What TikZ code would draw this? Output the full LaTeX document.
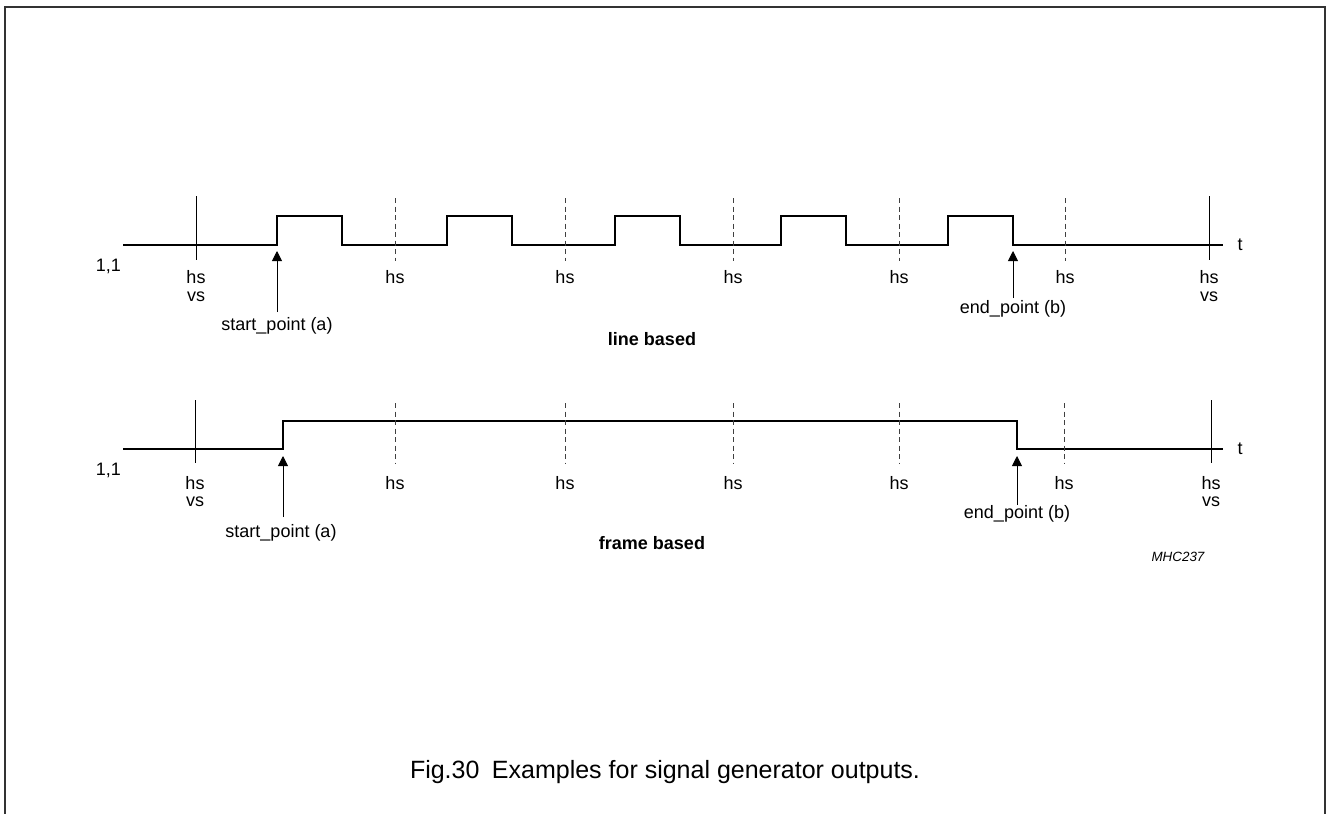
\documentclass[tikz,border=0pt]{standalone}
\usepackage{fontspec}
\setmainfont{Liberation Sans}
\usetikzlibrary{arrows.meta}
\begin{document}
\begin{tikzpicture}[x=1pt,y=-1pt,
  sig/.style={line width=2.6pt, line join=miter},
  tick/.style={line width=0.8pt},
  dline/.style={line width=0.8pt, dash pattern=on 5pt off 3.5pt, draw=black!75},
  lab/.style={font=\fontsize{18}{20}\selectfont, inner sep=0pt},
  blab/.style={font=\fontsize{18}{20}\selectfont\bfseries, inner sep=0pt},
  ptr/.style={-{Triangle[length=10pt,width=10pt]}, line width=0.9pt}]
\useasboundingbox (0,0) rectangle (1326,814);
\draw[line width=2pt, black!80] (4.5,814) -- (4.5,7) -- (1324.5,7) -- (1324.5,814);

% ---------- line based ----------
\draw[sig] (123,245) -- (277,245) -- (277,216) -- (342,216) -- (342,245)
  -- (447,245) -- (447,216) -- (512,216) -- (512,245)
  -- (615,245) -- (615,216) -- (680,216) -- (680,245)
  -- (781,245) -- (781,216) -- (846,216) -- (846,245)
  -- (948,245) -- (948,216) -- (1013,216) -- (1013,245) -- (1223,245);
\draw[tick] (196,196) -- (196,260);
\draw[tick] (1209,196) -- (1209,260);
\foreach \x in {395,565,733,899,1065} {
  \draw[dline] (\x,198) -- (\x,261);
  \node[lab] at (\x,277) {hs};
}
\node[lab, anchor=east] (oneA) at (121,266) {1,1};
\node[lab] (hsA1) at (196,277) {hs};
\node[lab] (vsA1) at (196,297) {vs};
\node[lab] (hsA2) at (1209,277) {hs};
\node[lab] (vsA2) at (1209,297) {vs};
\node[lab] (tA) at (1240,245) {t};
\node[lab] (startA) at (277,326) {start\_point (a)};
\node[lab] (endA) at (1013,309) {end\_point (b)};
\coordinate (startAtail) at (277,312);
\coordinate (startAtip) at (277,251);
\coordinate (endAtail) at (1013,298);
\coordinate (endAtip) at (1013,251);
\draw[ptr] (startAtail) -- (startAtip);
\draw[ptr] (endAtail) -- (endAtip);
\node[blab] (lineBased) at (652,339) {line based};

% ---------- frame based ----------
\draw[sig] (123,449) -- (283,449) -- (283,421) -- (1017,421) -- (1017,449) -- (1223,449);
\draw[tick] (195,400) -- (195,463);
\draw[tick] (1211,400) -- (1211,463);
\foreach \x in {395,565,733,899,1064} {
  \draw[dline] (\x,403) -- (\x,464);
  \node[lab] at (\x,483) {hs};
}
\node[lab, anchor=east] (oneB) at (121,470) {1,1};
\node[lab] (hsB1) at (195,483) {hs};
\node[lab] (vsB1) at (195,502) {vs};
\node[lab] (hsB2) at (1211,483) {hs};
\node[lab] (vsB2) at (1211,502) {vs};
\node[lab] (tB) at (1240,449) {t};
\node[lab] (startB) at (281,533) {start\_point (a)};
\node[lab] (endB) at (1017,514) {end\_point (b)};
\coordinate (startBtail) at (283,517);
\coordinate (startBtip) at (283,456);
\coordinate (endBtail) at (1017,505);
\coordinate (endBtip) at (1017,456);
\draw[ptr] (startBtail) -- (startBtip);
\draw[ptr] (endBtail) -- (endBtip);
\node[blab] (frameBased) at (652,543) {frame based};

\node[font=\fontsize{13.4}{15}\selectfont\itshape, inner sep=0pt] (code) at (1178,557) {MHC237};
\node[font=\fontsize{25}{28}\selectfont, inner sep=0pt] (caption) at (665,772) {Fig.30\hspace{0.5em}Examples for signal generator outputs.};
\end{tikzpicture}
\end{document}
